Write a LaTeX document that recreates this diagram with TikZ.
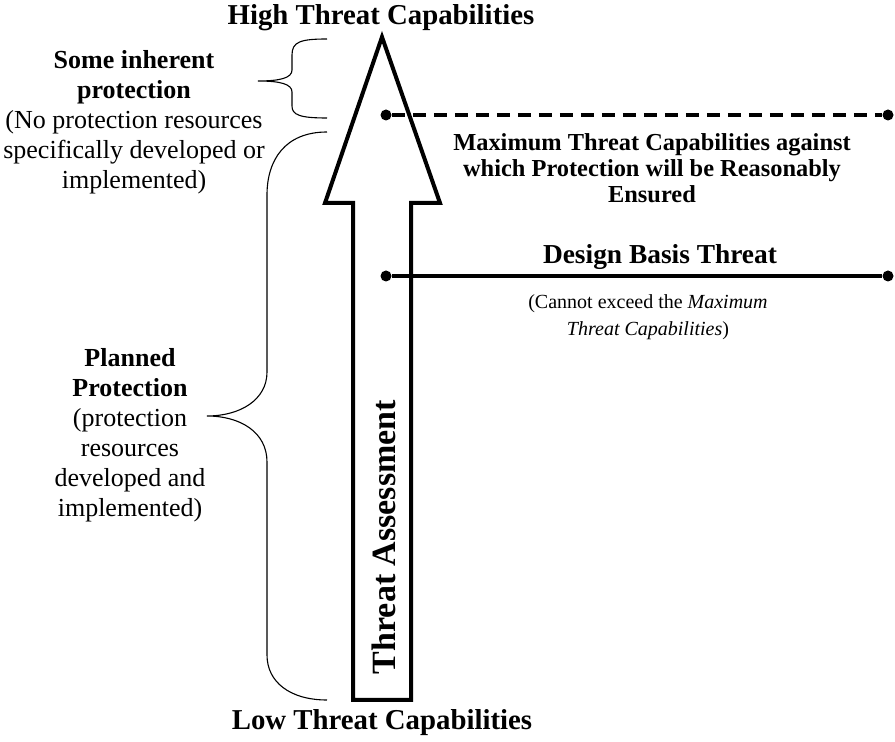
\documentclass[tikz,border=0pt]{standalone}
\usepackage{fontspec}
\setmainfont{Liberation Serif}
\begin{document}
\begin{tikzpicture}[x=0.5pt,y=-0.5pt,
  arrowshape/.style={line width=2pt,line join=miter,miter limit=20},
  lvl/.style={line width=1.6pt},
  brace/.style={line width=0.55pt},
  dotmark/.style={circle,fill=black,inner sep=0pt,minimum size=5.5pt},
  title/.style={font=\fontsize{14.4}{17}\selectfont\bfseries},
  lefttxt/.style={align=center,font=\fontsize{13}{15}\selectfont},
]
\useasboundingbox (0,0) rectangle (895,742);
% big arrow
\draw[arrowshape] (382,37) -- (440,203) -- (411,203) -- (411,700) -- (353,700) -- (353,203) -- (325,203) -- cycle;
\node[rotate=90,font=\fontsize{17}{20}\selectfont\bfseries] (ta) at (384,537) {Threat Assessment};
% titles
\node[title] (high) at (381,18) {High Threat Capabilities};
\node[title] (low) at (382,723) {Low Threat Capabilities};
% dashed maximum line
\node[dotmark] (m1) at (386,115) {};
\node[dotmark] (m2) at (888,115) {};
\draw[lvl,dash pattern=on 6.5pt off 4pt] (m1) -- (m2);
\node[align=center,font=\fontsize{12.2}{13}\selectfont\bfseries] (maxtxt) at (652,168)
  {Maximum Threat Capabilities against\\which Protection will be Reasonably\\Ensured};
% design basis threat
\node[dotmark] (d1) at (386,276) {};
\node[dotmark] (d2) at (888,276) {};
\draw[lvl] (d1) -- (d2);
\node[font=\fontsize{13.7}{16}\selectfont\bfseries] (dbt) at (660,257) {Design Basis Threat};
\node[align=center,font=\fontsize{10}{13.5}\selectfont] (dbtnote) at (648,317)
  {(Cannot exceed the \textit{Maximum}\\\textit{Threat Capabilities})};
% upper brace
\draw[brace] (327,39) .. controls (300,39) and (292,42) .. (292,55) -- (292,70)
  .. controls (292,78) and (280,81) .. (258,81)
  .. controls (280,81) and (292,84) .. (292,92) -- (292,106)
  .. controls (292,115) and (300,118) .. (327,118);
% big brace
\draw[brace] (327,132) .. controls (285,132) and (267,160) .. (267,195) -- (267,372)
  .. controls (267,400) and (240,416) .. (207,416)
  .. controls (240,416) and (267,432) .. (267,462) -- (267,655)
  .. controls (267,682) and (290,700) .. (327,700);
% left texts
\node[lefttxt] (some) at (134,122)
  {\textbf{Some inherent}\\\textbf{protection}\\(No protection resources\\specifically developed or\\implemented)};
\node[lefttxt] (planned) at (130,435)
  {\textbf{Planned}\\\textbf{Protection}\\(protection\\resources\\developed and\\implemented)};
\end{tikzpicture}
\end{document}
